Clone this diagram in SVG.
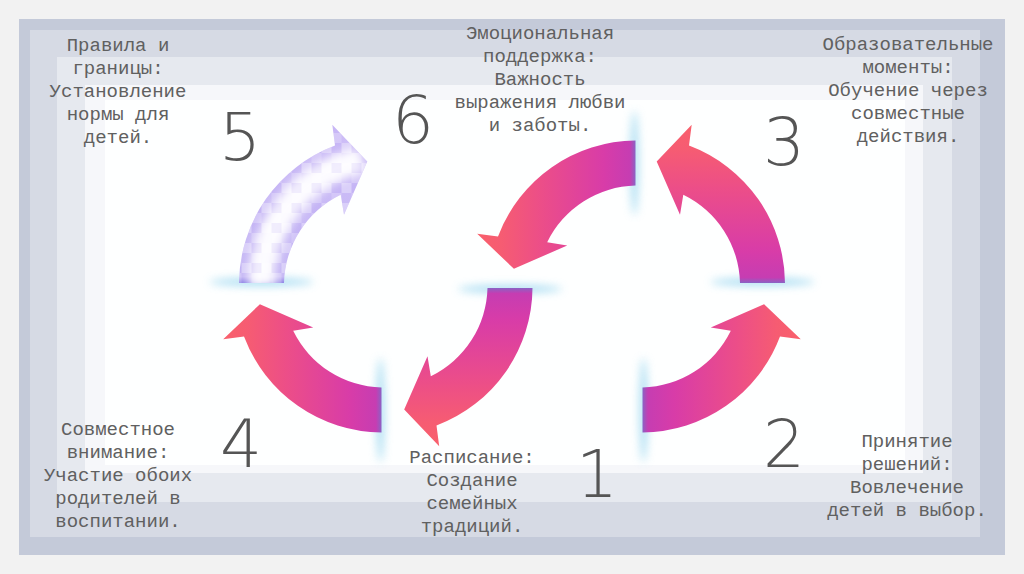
<svg xmlns="http://www.w3.org/2000/svg" xmlns:xlink="http://www.w3.org/1999/xlink" width="1024" height="574" viewBox="0 0 1024 574">
<style>
.t{font-family:"Liberation Mono","Courier New",monospace;font-size:19px;fill:#606060;text-anchor:middle}
.n{font-family:"DejaVu Sans","Open Sans",sans-serif;font-weight:200;font-size:66px;fill:#555;text-anchor:middle}
.glow{fill:#9dd8f0;filter:url(#blur);opacity:0.85}
</style>
<defs>
<linearGradient id="pg" gradientUnits="userSpaceOnUse" x1="0" y1="0" x2="0" y2="-158">
<stop offset="0" stop-color="#8a62c4"/>
<stop offset="0.035" stop-color="#c63db2"/>
<stop offset="0.2" stop-color="#d83ca8"/>
<stop offset="0.6" stop-color="#ec4e88"/>
<stop offset="0.85" stop-color="#f65c72"/>
<stop offset="1" stop-color="#f9606c"/>
</linearGradient>
<linearGradient id="lav" gradientUnits="userSpaceOnUse" x1="0" y1="0" x2="0" y2="-158">
<stop offset="0" stop-color="#8f84e6"/>
<stop offset="0.04" stop-color="#c6b8f5"/>
<stop offset="1" stop-color="#cdbdf7"/>
</linearGradient>
<filter id="blur" x="-50%" y="-300%" width="200%" height="700%"><feGaussianBlur stdDeviation="4"/></filter>
<filter id="soft" x="-50%" y="-50%" width="200%" height="200%"><feGaussianBlur stdDeviation="5"/></filter>
<pattern id="mosaic" patternUnits="userSpaceOnUse" width="20" height="20">
<rect x="0" y="0" width="10" height="10" fill="#fff" opacity="0.3"/>
<rect x="10" y="10" width="10" height="10" fill="#fff" opacity="0.18"/>
<rect x="10" y="0" width="10" height="10" fill="#a58cee" opacity="0.12"/>
</pattern>
<path id="arrow" d="M -22.5,0 A 148 148 0 0 1 73.5,-137.5 L 70.8,-158.3 L 105.8,-121.6 L 82.5,-68.3 L 79.2,-88.3 A 101 101 0 0 0 22.5,0 Z"/>
<clipPath id="clipA"><use xlink:href="#arrow"/></clipPath>
</defs>

<rect width="1024" height="574" fill="#f2f2f2"/>
<g id="frame">
<rect x="19" y="19" width="986" height="536" fill="#c4cad9"/>
<rect x="30" y="30" width="950" height="507" fill="#fff" opacity="0.3"/>
<rect x="57" y="57" width="895" height="445" fill="#fff" opacity="0.4"/>
<rect x="85" y="85" width="838" height="388" fill="#fff" opacity="0.65"/>
<rect x="105" y="100" width="800" height="365" fill="#fff" opacity="0.9"/>
</g>

<g id="connectors">
<g id="arrow5" transform="translate(261.5,283)">
<ellipse class="glow" cx="0" cy="-1" rx="52" ry="4"/>
<use xlink:href="#arrow" fill="url(#lav)"/>
<g clip-path="url(#clipA)">
<path d="M 0.5,4 A 125.5 125.5 0 0 1 83,-118 L 100,-124" fill="none" stroke="#fff" stroke-width="26" opacity="0.95" filter="url(#soft)"/>
<use xlink:href="#arrow" fill="url(#mosaic)"/>
</g>
</g>
<g id="arrow3" transform="translate(762.5,283) scale(-1,1)">
<ellipse class="glow" cx="0" cy="-1" rx="52" ry="4"/>
<use xlink:href="#arrow" fill="url(#pg)"/>
</g>
<g id="arrow4" transform="translate(381.5,410) rotate(-90)">
<ellipse class="glow" cx="0" cy="-1" rx="52" ry="4"/>
<use xlink:href="#arrow" fill="url(#pg)"/>
</g>
<g id="arrow2" transform="translate(642.5,410) scale(-1,1) rotate(-90)">
<ellipse class="glow" cx="0" cy="-1" rx="52" ry="4"/>
<use xlink:href="#arrow" fill="url(#pg)"/>
</g>
<g id="arrow1" transform="translate(510,288) rotate(180)">
<ellipse class="glow" cx="0" cy="-1" rx="52" ry="4"/>
<use xlink:href="#arrow" fill="url(#pg)"/>
</g>
<g id="arrow6" transform="translate(635.5,163) rotate(-90) scale(-1,1)">
<ellipse class="glow" cx="0" cy="-1" rx="52" ry="4"/>
<use xlink:href="#arrow" fill="url(#pg)"/>
</g>
</g>

<g id="numbers">
<text class="n" x="240" y="160">5</text>
<text class="n" x="413" y="143">6</text>
<text class="n" x="784" y="165">3</text>
<text class="n" x="241" y="467">4</text>
<text class="n" x="597" y="497">1</text>
<text class="n" x="784" y="467">2</text>
</g>

<g id="node5">
<text class="t" x="118" y="51">Правила и</text>
<text class="t" x="118" y="74">границы:</text>
<text class="t" x="118" y="97">Установление</text>
<text class="t" x="118" y="120">нормы для</text>
<text class="t" x="118" y="143">детей.</text>
</g>
<g id="node6">
<text class="t" x="540" y="39">Эмоциональная</text>
<text class="t" x="540" y="62">поддержка:</text>
<text class="t" x="540" y="85">Важность</text>
<text class="t" x="540" y="108">выражения любви</text>
<text class="t" x="540" y="131">и заботы.</text>
</g>
<g id="node3">
<text class="t" x="908" y="50">Образовательные</text>
<text class="t" x="908" y="73">моменты:</text>
<text class="t" x="908" y="96">Обучение через</text>
<text class="t" x="908" y="119">совместные</text>
<text class="t" x="908" y="142">действия.</text>
</g>
<g id="node4">
<text class="t" x="118" y="435">Совместное</text>
<text class="t" x="118" y="458">внимание:</text>
<text class="t" x="118" y="481">Участие обоих</text>
<text class="t" x="118" y="504">родителей в</text>
<text class="t" x="118" y="527">воспитании.</text>
</g>
<g id="node1">
<text class="t" x="472" y="463">Расписание:</text>
<text class="t" x="472" y="486">Создание</text>
<text class="t" x="472" y="509">семейных</text>
<text class="t" x="472" y="532">традиций.</text>
</g>
<g id="node2">
<text class="t" x="907" y="447">Принятие</text>
<text class="t" x="907" y="470">решений:</text>
<text class="t" x="907" y="493">Вовлечение</text>
<text class="t" x="907" y="516">детей в выбор.</text>
</g>
</svg>
